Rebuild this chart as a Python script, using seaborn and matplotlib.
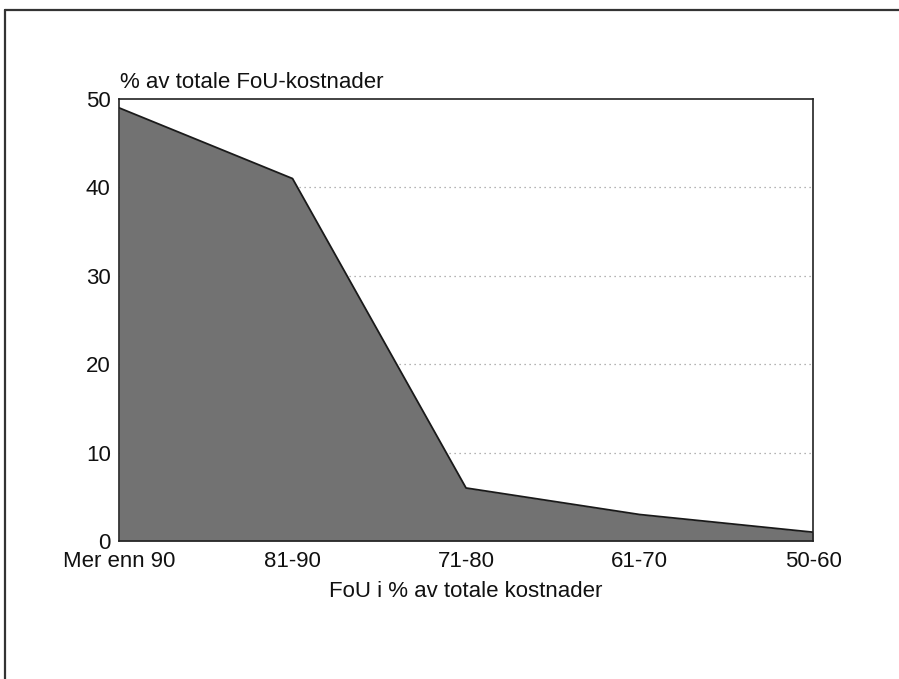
import numpy as np
import pandas as pd
import matplotlib.pyplot as plt
from matplotlib.lines import Line2D
import seaborn as sns

# FoU share per category
categories = ["Mer enn 90", "81-90", "71-80", "61-70", "50-60"]
share = [49, 41, 6, 3, 1]
y_ticks = [0, 10, 20, 30, 40, 50]

sns.set_theme(style="white")
plt.rcParams["font.family"] = ["Liberation Sans", "DejaVu Sans"]

df = pd.DataFrame({"pos": np.arange(len(categories)), "share": share})

fig = plt.figure(figsize=(8.99, 6.79), dpi=100)
ax = fig.add_axes([0.1324, 0.2032, 0.772, 0.651])

# dotted grid behind the area
for y in y_ticks[1:-1]:
    ax.axhline(y, color="#9a9a9a", linewidth=0.9, linestyle=(0, (1, 3)), zorder=0)

ax.fill_between(df["pos"], df["share"], 0, color="#727272", zorder=1, linewidth=0)
sns.lineplot(data=df, x="pos", y="share", ax=ax, color="#1a1a1a", linewidth=1.3, zorder=2)

ax.set_xlim(0, len(categories) - 1)
ax.set_ylim(0, 50)
ax.set_yticks(y_ticks)
ax.set_xticks(df["pos"])
ax.set_xticklabels(categories)
ax.tick_params(axis="both", length=0, labelsize=16, colors="#111111")
ax.tick_params(axis="x", pad=7)
ax.tick_params(axis="y", pad=6)
ax.set_xlabel("FoU i % av totale kostnader", fontsize=16, color="#111111", labelpad=7)
ax.set_ylabel("")
ax.text(0.002, 1.025, "% av totale FoU-kostnader", transform=ax.transAxes,
        fontsize=16, color="#111111", ha="left", va="baseline")

for sp in ax.spines.values():
    sp.set_visible(True)
    sp.set_color("#222222")
    sp.set_linewidth(1.2)

# page frame: top and left edges only
fig.add_artist(Line2D([0.006, 1.0], [0.985, 0.985], transform=fig.transFigure,
                      color="#333333", linewidth=1.6))
fig.add_artist(Line2D([0.006, 0.006], [0.0, 0.985], transform=fig.transFigure,
                      color="#333333", linewidth=1.6))

fig.savefig("out.png", dpi=100)
